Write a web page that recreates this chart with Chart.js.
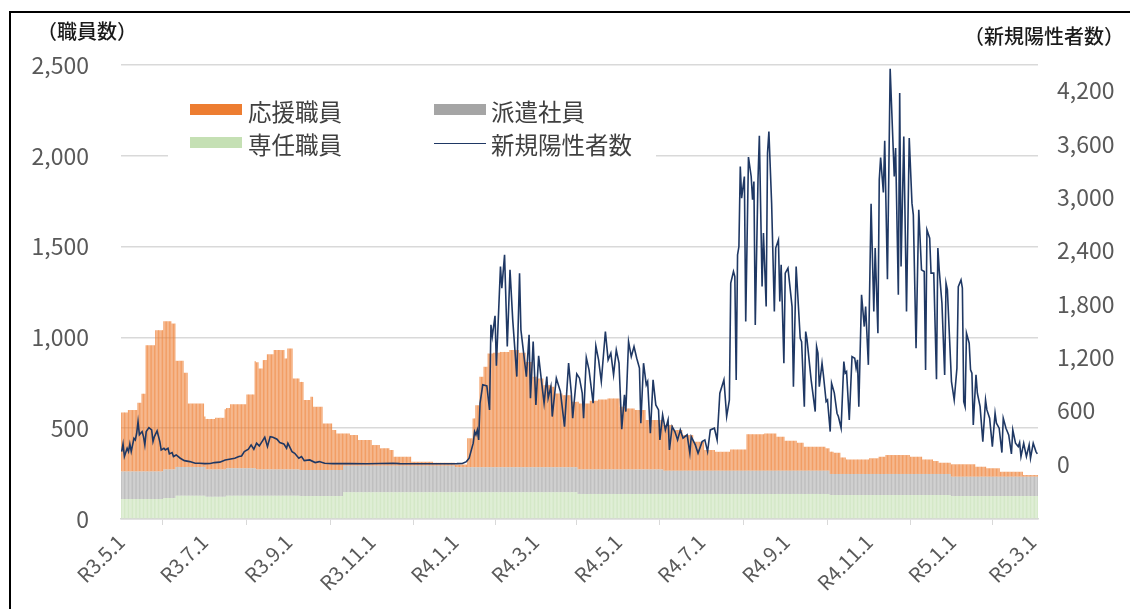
<!DOCTYPE html>
<html lang="ja">
<head>
<meta charset="utf-8">
<title>職員数と新規陽性者数</title>
<script src="https://cdn.jsdelivr.net/npm/chart.js@4.4.1/dist/chart.umd.min.js"></script>
<style>
  html, body { margin: 0; padding: 0; background: #fff; }
  #wrap { position: relative; width: 1130px; height: 609px; overflow: hidden; font-family: "Noto Sans CJK JP", sans-serif; color: #404040; }
  #frame { position: absolute; left: 9px; top: 11px; width: 1160px; height: 660px; border: 2px solid #000; box-sizing: border-box; }
  canvas { position: absolute; left: 0; top: 0; }
  .axis-title { position: absolute; font-size: 20px; line-height: 20px; font-weight: 500; color: #1a1a1a; white-space: nowrap; }
  #legend { position: absolute; left: 168px; top: 90px; width: 488px; height: 72px; background: #fff; }
  .item { position: absolute; font-size: 23.5px; line-height: 26px; white-space: nowrap; }
  .swatch { position: absolute; width: 52px; height: 11px; }
  .lineswatch { position: absolute; width: 52px; height: 1.5px; background: #1f3864; }
</style>
</head>
<body>
<div id="wrap">
  <canvas id="chart" width="1130" height="609"></canvas>
  <div id="frame"></div>
  <div class="axis-title" style="left:37px; top:21px;">（職員数）</div>
  <div class="axis-title" style="left:964px; top:26px;">（新規陽性者数）</div>
  <div id="legend">
    <div class="swatch" style="left:22px; top:14px; background:#ed7d31;"></div>
    <div class="item" style="left:80px; top:8px;">応援職員</div>
    <div class="swatch" style="left:22px; top:47px; background:#c5e0b4;"></div>
    <div class="item" style="left:80px; top:41px;">専任職員</div>
    <div class="swatch" style="left:266px; top:14px; background:#a5a5a5;"></div>
    <div class="item" style="left:323px; top:8px;">派遣社員</div>
    <div class="lineswatch" style="left:266px; top:52.5px;"></div>
    <div class="item" style="left:323px; top:41px;">新規陽性者数</div>
  </div>
</div>
<script>
// days are counted from R3.5.1 (2021-05-01); last bar is R5.3.4
const DAYS = 673;

// x axis tick labels (first day of every other month)
const tickLabels = ['R3.5.1', 'R3.7.1', 'R3.9.1', 'R3.11.1', 'R4.1.1', 'R4.3.1',
                    'R4.5.1', 'R4.7.1', 'R4.9.1', 'R4.11.1', 'R5.1.1', 'R5.3.1'];
const tickDays = [0, 61, 123, 184, 245, 304, 365, 426, 488, 549, 610, 669];

const leftTicks = [0, 500, 1000, 1500, 2000, 2500];
const rightTicks = [0, 600, 1200, 1800, 2400, 3000, 3600, 4200];

// staff counts change in steps: [first day, value]
const fixedSteps = [
    [0, 110], [31, 115], [40, 128], [62, 122], [77, 128], [131, 126], [163, 147],
    [335, 138], [520, 132], [609, 126]
];
const dispatchSteps = [
    [0, 152], [31, 158], [40, 159], [62, 151], [99, 145], [131, 144], [163, 146],
    [245, 138], [335, 135], [398, 128], [520, 116], [609, 107]
];
const supportSteps = [
    [0, 325], [5, 338], [12, 378], [15, 428], [18, 695], [25, 778], [31, 816], [37, 803],
    [40, 584], [46, 518], [49, 349], [61, 278], [69, 284], [76, 332], [80, 353], [92, 407],
    [98, 590], [101, 556], [104, 602], [107, 634], [112, 657], [120, 611], [122, 666],
    [126, 501], [131, 485], [134, 385], [139, 403], [141, 348], [148, 256], [155, 220],
    [158, 201], [163, 178], [168, 169], [174, 142], [184, 114], [190, 96], [197, 87],
    [200, 50], [213, 22], [229, 17], [245, 15], [254, 159], [258, 269], [260, 342],
    [263, 498], [266, 553], [269, 626], [273, 630], [278, 635], [285, 645], [292, 630],
    [297, 580], [302, 498], [306, 489], [310, 452], [316, 443], [318, 406], [324, 397],
    [331, 360], [335, 372], [336, 363], [344, 378], [350, 385], [357, 391], [366, 345],
    [370, 336], [377, 327], [385, 272], [398, 251], [405, 224], [412, 196], [420, 159],
    [428, 114], [436, 104], [447, 117], [459, 201], [472, 205], [481, 187], [487, 165],
    [496, 154], [501, 132], [517, 123], [523, 117], [528, 91], [532, 80], [549, 86],
    [556, 95], [561, 104], [579, 95], [588, 80], [596, 71], [600, 62], [609, 68],
    [627, 55], [635, 46], [645, 27], [662, 9]
];

// new positive cases
const caseDays = [
    0, 1, 2, 4, 5, 6, 7, 9, 10, 11, 12, 13, 15, 16, 17, 18, 20, 22, 23, 24, 26, 28, 29,
    31, 32, 34, 35, 37, 38, 40, 43, 46, 50, 54, 57, 61, 65, 68, 72, 76, 79, 83, 86, 88,
    90, 93, 95, 97, 99, 101, 103, 105, 107, 109, 111, 114, 116, 119, 121, 122, 125, 127,
    130, 132, 134, 138, 142, 145, 149, 155, 167, 180, 199, 204, 226, 246, 250, 253, 255,
    258, 259, 260, 261, 262, 263, 265, 268, 270, 271, 272, 274, 275, 278, 279, 281, 283,
    285, 287, 290, 292, 293, 295, 297, 299, 300, 302, 304, 306, 308, 310, 312, 313, 315,
    316, 319, 322, 325, 328, 330, 331, 334, 336, 338, 339, 341, 343, 346, 348, 350, 352,
    355, 357, 359, 361, 363, 365, 367, 369, 370, 372, 374, 376, 378, 380, 381, 383, 385,
    386, 388, 390, 392, 394, 395, 397, 399, 401, 402, 404, 406, 408, 410, 412, 415, 417,
    418, 421, 423, 426, 428, 430, 432, 435, 437, 439, 442, 444, 446, 447, 449, 450, 451,
    452, 453, 454, 455, 457, 458, 460, 462, 463, 464, 465, 467, 468, 470, 471, 473, 474,
    475, 477, 479, 480, 482, 483, 484, 486, 487, 489, 492, 493, 495, 498, 499, 501, 502,
    503, 506, 509, 510, 511, 512, 514, 515, 517, 518, 520, 521, 523, 525, 526, 528, 530,
    531, 532, 534, 536, 538, 539, 540, 541, 543, 545, 546, 548, 550, 552, 553, 555, 556,
    557, 559, 560, 562, 564, 567, 568, 570, 571, 572, 574, 576, 578, 580, 581, 583, 585,
    587, 589, 590, 591, 593, 594, 596, 598, 599, 600, 602, 604, 605, 606, 609, 611, 613,
    614, 616, 617, 618, 619, 620, 622, 623, 624, 625, 627, 628, 630, 632, 634, 635, 637,
    639, 641, 642, 644, 646, 647, 649, 651, 653, 654, 656, 658, 659, 660, 662, 664, 666,
    667, 669, 671, 672
];
const caseCounts = [
    139, 225, 83, 176, 139, 225, 139, 289, 270, 345, 476, 327, 364, 307, 214, 364, 409, 383, 251, 307, 371, 251, 158,
    176, 158, 176, 113, 128, 83, 101, 64, 37, 26, 8, 8, 3, 5, 15, 20, 45, 53, 64, 83, 90,
    139, 165, 214, 165, 233, 203, 251, 300, 195, 307, 300, 278, 240, 225, 176, 233, 139, 120,
    64, 83, 37, 45, 15, 26, 8, 3, 3, 2, 8, 3, 2, 3, 5, 26, 64,
    233, 364, 327, 383, 270, 683, 890, 878, 608, 1565, 1433, 1667, 1104, 2222, 1978, 2353, 1321,
    2184, 1621, 983, 2147, 1509, 1246, 983, 1453, 740, 1377, 664, 1216, 946, 683, 983, 740, 870,
    533, 965, 814, 420, 1134, 796, 515, 1013, 965, 796, 515, 1197, 1058, 683, 1329, 1171, 927,
    1490, 1171, 1246, 1002, 1284, 1134, 390, 777, 589, 1377, 1208, 1321, 1190, 1078, 458, 1134, 890,
    927, 345, 946, 664, 608, 270, 552, 383, 495, 158, 420, 364, 270, 383, 289, 327, 120,
    307, 214, 120, 251, 270, 139, 383, 402, 270, 796, 946, 533, 720, 2035, 2165, 2109, 946,
    2353, 2447, 3348, 2991, 3235, 1602, 3453, 3235, 2973, 3179, 1565, 3198, 3693, 1996, 2598, 1771, 3498,
    3742, 2935, 1715, 2429, 2522, 1828, 2241, 1134, 2147, 2203, 1771, 870, 2222, 1415, 1377, 645, 1490,
    1396, 946, 589, 1321, 1246, 870, 1134, 1002, 702, 720, 364, 909, 800, 571, 533, 402, 1152,
    1021, 1039, 495, 1208, 1190, 1078, 1171, 645, 1903, 1546, 1771, 1115, 2928, 1715, 2429, 1472, 3198,
    3449, 3055, 3637, 2080, 4448, 3235, 3555, 1903, 4174, 2222, 3686, 1715, 3667, 2935, 2804, 1303, 2860,
    2184, 2165, 1058, 2635, 2541, 2147, 2147, 953, 2429, 2184, 1809, 1002, 2035, 1959, 927, 720, 1078,
    1996, 2072, 1978, 702, 645, 1472, 1359, 1058, 1021, 439, 1002, 796, 645, 251, 720, 608, 515,
    195, 571, 458, 402, 128, 515, 402, 327, 113, 383, 233, 195, 240, 83, 233, 83, 214,
    64, 233, 139, 113
];

function expandSteps(steps) {
    const out = [];
    let k = 0;
    for (let d = 0; d < DAYS; d++) {
        while (k + 1 < steps.length && steps[k + 1][0] <= d) k++;
        out.push({ x: d, y: steps[k][1] });
    }
    return out;
}

const casePoints = caseDays.map((d, i) => ({ x: d, y: caseCounts[i] }));

const fontFamily = '"Noto Sans CJK JP", sans-serif';
const fmt = v => v.toLocaleString('en-US');

const barCommon = { yAxisID: 'y', order: 1, barPercentage: 0.9, categoryPercentage: 1, borderWidth: 0 };

new Chart(document.getElementById('chart'), {
    type: 'bar',
    data: {
        datasets: [
            {
                type: 'line', label: '新規陽性者数', data: casePoints, yAxisID: 'y2', order: 0,
                borderColor: '#1f3864', borderWidth: 1.6, pointRadius: 0, tension: 0, fill: false
            },
            Object.assign({ label: '専任職員', data: expandSteps(fixedSteps), backgroundColor: 'rgba(197, 224, 180, 0.75)' }, barCommon),
            Object.assign({ label: '派遣社員', data: expandSteps(dispatchSteps), backgroundColor: 'rgba(175, 175, 175, 0.8)' }, barCommon),
            Object.assign({ label: '応援職員', data: expandSteps(supportSteps), backgroundColor: 'rgba(237, 125, 49, 0.75)' }, barCommon)
        ]
    },
    options: {
        responsive: false,
        animation: false,
        layout: { padding: { top: 65, left: 0, right: 0, bottom: 0 } },
        plugins: { legend: { display: false }, tooltip: { enabled: false } },
        scales: {
            x: {
                type: 'linear', min: -0.5, max: DAYS - 0.5, stacked: true, offset: false,
                grid: { drawOnChartArea: false, color: '#d9d9d9', tickLength: 6 },
                border: { color: '#d9d9d9', width: 1.5 },
                afterBuildTicks: axis => { axis.ticks = tickDays.map(d => ({ value: d - 0.5 })); },
                afterFit: axis => { axis.height = 90; },
                ticks: {
                    autoSkip: false, minRotation: 45, maxRotation: 45, padding: 5,
                    color: '#595959', font: { family: fontFamily, size: 20 },
                    callback: (v, i) => tickLabels[i]
                }
            },
            y: {
                stacked: true, min: 0, max: 2500,
                afterBuildTicks: axis => { axis.ticks = leftTicks.map(v => ({ value: v })); },
                afterFit: axis => { axis.width = 121; },
                grid: { color: '#d9d9d9', lineWidth: 1.5, drawTicks: false },
                border: { display: false },
                ticks: { padding: 32, color: '#595959', font: { family: fontFamily, size: 23 }, callback: v => fmt(v) }
            },
            y2: {
                position: 'right', min: -620, max: 4490,
                afterBuildTicks: axis => { axis.ticks = rightTicks.map(v => ({ value: v })); },
                afterFit: axis => { axis.width = 92; },
                grid: { display: false, drawTicks: false },
                border: { display: false },
                ticks: { padding: 19, color: '#595959', font: { family: fontFamily, size: 23 }, callback: v => fmt(v) }
            }
        }
    }
});
</script>
</body>
</html>
